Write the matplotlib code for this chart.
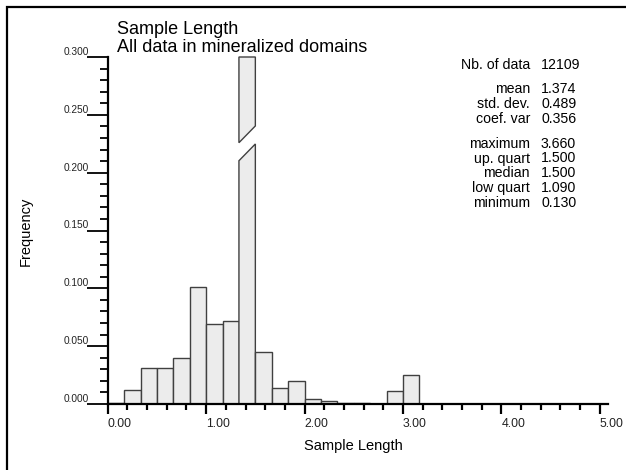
import numpy as np
import matplotlib
matplotlib.use("Agg")
import matplotlib.pyplot as plt
from matplotlib.patches import Polygon
from matplotlib.lines import Line2D
from matplotlib.transforms import blended_transform_factory

plt.rcParams['font.family'] = ['Liberation Sans', 'DejaVu Sans']

# ---- data ----
bin_start = 0.0
bin_width = 1.0 / 6.0
freq = [0.001, 0.0122, 0.031, 0.031, 0.0394, 0.1014, 0.069, 0.0719, 0.519, 0.0446,
        0.0136, 0.020, 0.0046, 0.0023, 0.0012, 0.0009, 0.0, 0.011, 0.0255, 0.0,
        0.0, 0.0, 0.0, 0.0, 0.0, 0.0, 0.0, 0.0, 0.0, 0.0]
title_lines = ["Sample Length", "All data in mineralized domains"]
xlabel = "Sample Length"
ylabel = "Frequency"
xticks = [0, 1, 2, 3, 4, 5]
xtick_labels = ["0.00", "1.00", "2.00", "3.00", "4.00", "5.00"]
yticks = [0.0, 0.05, 0.10, 0.15, 0.20, 0.25, 0.30]
ytick_labels = ["0.000", "0.050", "0.100", "0.150", "0.200", "0.250", "0.300"]
stat_names = ["Nb. of data", "mean", "std. dev.", "coef. var", "maximum",
              "up. quart", "median", "low quart", "minimum"]
stat_values = ["12109", "1.374", "0.489", "0.356", "3.660", "1.500", "1.500",
               "1.090", "0.130"]

W, H = 626, 470
fig = plt.figure(figsize=(W / 100, H / 100), dpi=100)
ax = fig.add_axes([107.7 / W, 66 / H, 502 / W, 347 / H])
ax.set_xlim(0, 5.1)
ymax = 0.3
ax.set_ylim(0, ymax)

face = '#ececec'
edge = '#404040'
edges = bin_start + bin_width * np.arange(len(freq))
# axis-break cut for the clipped bar (lower piece top / upper piece bottom)
cut_low_l, cut_low_r = 0.2103, 0.2248
cut_up_l, cut_up_r = 0.2259, 0.2404
for x0, f in zip(edges, freq):
    if f <= ymax:
        ax.bar(x0, f, width=bin_width, align='edge', color=face, edgecolor=edge,
               linewidth=1.0, zorder=2)
    else:
        x1 = x0 + bin_width
        lower = [(x0, 0), (x1, 0), (x1, cut_low_r), (x0, cut_low_l)]
        upper = [(x0, cut_up_l), (x1, cut_up_r), (x1, ymax), (x0, ymax)]
        for pts in (lower, upper):
            ax.add_patch(Polygon(pts, closed=True, facecolor=face, edgecolor=edge,
                                 linewidth=1.0, zorder=2, clip_on=False))

for s in ['top', 'right']:
    ax.spines[s].set_visible(False)
ax.spines['left'].set_linewidth(1.6)
ax.spines['bottom'].set_linewidth(1.6)
ax.spines['bottom'].set_bounds(0, 5.08)
ax.spines['bottom'].set_zorder(3)

ax.set_xticks(xticks)
ax.set_xticklabels(xtick_labels, fontsize=8.8, ha='left', color='#222222')
ax.set_xticks(np.arange(0, 5.01, 0.2), minor=True)
ax.tick_params(axis='x', which='major', direction='out', length=7, width=1.6, pad=3)
ax.tick_params(axis='x', which='minor', direction='out', length=4.5, width=1.6)

ax.set_yticks(yticks)
ax.set_yticklabels([])
ax.set_yticks(np.arange(0, 0.3001, 0.01), minor=True)
ax.tick_params(axis='y', which='major', direction='out', length=15, width=1.3)
ax.tick_params(axis='y', which='minor', direction='out', length=5.8, width=1.3)

ytr = blended_transform_factory(fig.transFigure, ax.transData)
for v, lab in zip(yticks, ytick_labels):
    ax.text(88.5 / W, v, lab, transform=ytr, ha='right', va='bottom', fontsize=7.3,
            color='#222222')

fig.text(353 / W, 1 - 446 / H, xlabel, ha='center', va='center', fontsize=10.5)
fig.text(26 / W, 1 - 231 / H, ylabel, ha='center', va='center', fontsize=10.5,
         rotation=90)

fig.text(117 / W, 1 - 29 / H, title_lines[0], ha='left', va='center', fontsize=13)
fig.text(117 / W, 1 - 48 / H, title_lines[1], ha='left', va='center', fontsize=13)

row_y = [65, 89, 104, 119, 144, 158.5, 173, 188, 203]
for name, val, yy in zip(stat_names, stat_values, row_y):
    fig.text(530 / W, 1 - yy / H, name, ha='right', va='center', fontsize=10.2)
    fig.text(541 / W, 1 - yy / H, val, ha='left', va='center', fontsize=10.2)

# frame (left and top edges) as one open polyline
frame_x = [7 / W, 7 / W, 1.01]
frame_y = [-0.01, 1 - 6.5 / H, 1 - 6.5 / H]
fig.add_artist(Line2D(frame_x, frame_y, transform=fig.transFigure,
                      color='black', linewidth=1.6, solid_joinstyle='miter'))

fig.savefig("out.png", dpi=100)
